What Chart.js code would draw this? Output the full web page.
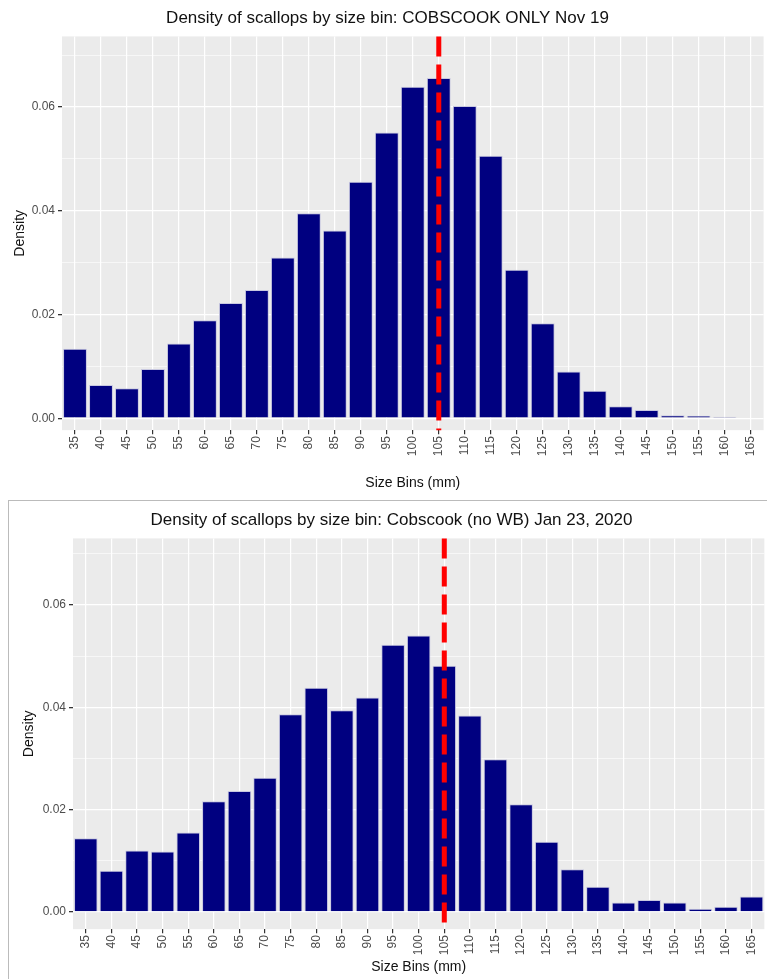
<!DOCTYPE html>
<html>
<head>
<meta charset="utf-8">
<script src="https://cdn.jsdelivr.net/npm/chart.js@4/dist/chart.umd.min.js"></script>
<style>
  body { margin: 0; background: #fff; width: 767px; height: 979px; position: relative; overflow: hidden; }
  #top { position: absolute; left: 0; top: 0; }
  #bottomPanel { position: absolute; left: 8px; top: 500px; width: 770px; height: 490px; border-left: 1px solid #bbb; border-top: 1px solid #bbb; }
  #bottom { position: absolute; left: -8px; top: -1px; }
</style>
</head>
<body>
<canvas id="top" width="767" height="498"></canvas>
<div id="bottomPanel"><canvas id="bottom" width="767" height="482"></canvas></div>
<script>
const sizeBins = ['35','40','45','50','55','60','65','70','75','80','85','90','95','100','105','110','115','120','125','130','135','140','145','150','155','160','165'];
const densityNov19 = [0.0134,0.0064,0.0058,0.0095,0.0144,0.0189,0.0222,0.0247,0.031,0.0395,0.0362,0.0456,0.0551,0.0639,0.0656,0.0602,0.0506,0.0286,0.0183,0.009,0.0053,0.0023,0.0016,0.0006,0.0005,0.0003,0];
const densityJan20 = [0.0144,0.008,0.012,0.0118,0.0155,0.0216,0.0236,0.0262,0.0386,0.0438,0.0394,0.0419,0.0522,0.054,0.0481,0.0384,0.0298,0.021,0.0137,0.0083,0.0049,0.0018,0.0023,0.0018,0.0006,0.001,0.003];
const yTicks = [0, 0.02, 0.04, 0.06];
const refBin = '105';

// ggplot-style grey panel + red dashed reference line
const panelPlugin = {
  id: 'panel',
  beforeDraw(chart) {
    const { ctx, chartArea: a } = chart;
    ctx.save();
    ctx.fillStyle = '#ebebeb';
    ctx.fillRect(a.left, a.top, a.right - a.left, a.bottom - a.top);
    ctx.restore();
  },
  afterDatasetsDraw(chart) {
    const { ctx, chartArea: a, scales } = chart;
    const x = scales.x.getPixelForValue(sizeBins.indexOf(refBin));
    ctx.save();
    ctx.strokeStyle = '#ff0000';
    ctx.lineWidth = 5;
    ctx.setLineDash([20, 8]);
    ctx.beginPath();
    ctx.moveTo(x, a.top);
    ctx.lineTo(x, a.bottom);
    ctx.stroke();
    ctx.restore();
  }
};

const isMajor = v => yTicks.some(t => Math.abs(t - v) < 1e-9);

function makeChart(id, data, title, yMin, yMax, leftW, pad, xTitleTop) {
  return new Chart(document.getElementById(id), {
    type: 'bar',
    data: {
      labels: sizeBins,
      datasets: [{
        data,
        backgroundColor: '#000080',
        borderColor: '#c8c8e0',
        borderWidth: 1,
        barPercentage: 1,
        categoryPercentage: 0.92
      }]
    },
    options: {
      responsive: false,
      animation: false,
      layout: { padding: pad },
      plugins: {
        legend: { display: false },
        tooltip: { enabled: false },
        title: {
          display: true,
          text: title,
          color: '#111',
          font: { family: 'Liberation Sans', size: 17, weight: 'normal' },
          padding: { top: 0, bottom: 8 }
        }
      },
      scales: {
        x: {
          grid: { offset: false, color: '#ffffff', lineWidth: 1.2, tickColor: '#333', tickLength: 4 },
          border: { display: false },
          ticks: { color: '#4d4d4d', font: { family: 'Liberation Sans', size: 12 }, minRotation: 90, maxRotation: 90, autoSkip: false, padding: 2 },
          title: { display: true, text: 'Size Bins (mm)', color: '#111', font: { family: 'Liberation Sans', size: 14 }, padding: { top: xTitleTop } }
        },
        y: {
          min: yMin,
          max: yMax,
          afterFit: s => { s.width = leftW; },
          afterBuildTicks: s => {
            s.ticks = [0, 0.01, 0.02, 0.03, 0.04, 0.05, 0.06, 0.07].map(v => ({ value: v }));
          },
          grid: {
            color: '#ffffff',
            lineWidth: c => (isMajor(c.tick.value) ? 1.3 : 0.6),
            tickColor: c => (isMajor(c.tick.value) ? '#333' : 'rgba(0,0,0,0)'),
            tickLength: 4
          },
          border: { display: false },
          ticks: {
            color: '#4d4d4d',
            font: { family: 'Liberation Sans', size: 12 },
            callback: v => (isMajor(v) ? v.toFixed(2) : '')
          },
          title: { display: true, text: 'Density', color: '#111', font: { family: 'Liberation Sans', size: 14 }, padding: { bottom: 0 } }
        }
      }
    },
    plugins: [panelPlugin]
  });
}

makeChart('top', densityNov19, 'Density of scallops by size bin: COBSCOOK ONLY Nov 19', -0.0023, 0.0736, 54, { left: 8, right: 0, top: 8, bottom: 2 }, 17);
makeChart('bottom', densityJan20, 'Density of scallops by size bin: Cobscook (no WB) Jan 23, 2020', -0.0034, 0.073, 56, { left: 16, right: 2, top: 10, bottom: 2 }, 2);
</script>
</body>
</html>
